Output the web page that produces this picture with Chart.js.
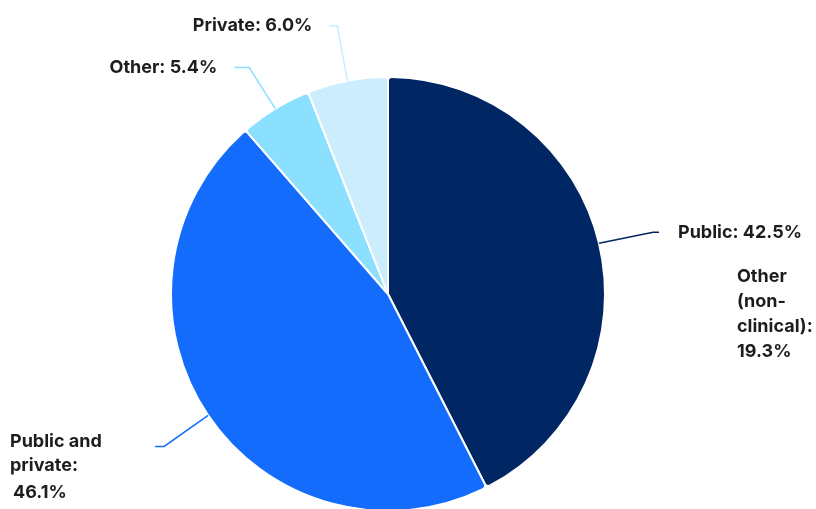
<!DOCTYPE html>
<html>
<head>
<meta charset="utf-8">
<script src="https://cdn.jsdelivr.net/npm/chart.js@4"></script>
<style>
  html, body { margin: 0; padding: 0; background: #fff; }
  #wrap { width: 816px; height: 509px; position: relative; }
</style>
</head>
<body>
<div id="wrap"><canvas id="pie_box"></canvas></div>
<script>
// chart values
var categories = ["Public", "Public and private", "Other", "Private"];
var shares = [42.5, 46.1, 5.4, 6.0];
var sliceColours = ["#002664", "#146cfd", "#8ce0ff", "#cbedfd"];
// label text per slice, already split into lines
var sliceLabels = [
    ["Public: 42.5%"],
    ["Public and", "private:", "46.1%"],
    ["Other: 5.4%"],
    ["Private: 6.0%"]
];
// loose note with no slice of its own
var noteLines = ["Other", "(non-", "clinical):", "19.3%"];

// leader line layout: elbow offset from slice edge, then horizontal run
var leaderLayout = [
    { dx: 54, dy: -11, run: 6, gap: 19, align: "left" },
    { dx: -44, dy: 31, run: -9, align: "left", x: 10, lineY: [442, 466, 493] },
    { dx: -26, dy: -41, run: -15, gap: 17, align: "right" },
    { dx: -10, dy: -55, run: -8, gap: 17, align: "right" }
];

var labelFont = "bold 18px Inter, Roboto, sans-serif";
var textColour = "#1d1d1d";

var pieLabels = {
    id: "pieLabels",
    afterDatasetsDraw: function (chart) {
        var ctx = chart.ctx;
        var arcs = chart.getDatasetMeta(0).data;
        ctx.save();
        ctx.font = labelFont;
        ctx.textBaseline = "middle";
        arcs.forEach(function (arc, i) {
            var lay = leaderLayout[i];
            var mid = (arc.startAngle + arc.endAngle) / 2;
            var sx = arc.x + Math.cos(mid) * arc.outerRadius;
            var sy = arc.y + Math.sin(mid) * arc.outerRadius;
            var ex = sx + lay.dx, ey = sy + lay.dy;
            var fx = ex + lay.run;
            ctx.strokeStyle = sliceColours[i];
            ctx.lineWidth = 1.5;
            ctx.beginPath();
            ctx.moveTo(sx, sy);
            ctx.lineTo(ex, ey);
            ctx.lineTo(fx, ey);
            ctx.stroke();

            ctx.fillStyle = textColour;
            var lines = sliceLabels[i];
            if (lay.lineY) {
                ctx.textAlign = "left";
                lines.forEach(function (t, k) {
                    ctx.fillText(t, lay.x + (k === 2 ? 3 : 0), lay.lineY[k]);
                });
            } else {
                ctx.textAlign = lay.align;
                var tx = lay.align === "left" ? fx + lay.gap : fx - lay.gap;
                ctx.fillText(lines[0], tx, ey);
            }
        });
        // note under the Public label
        ctx.textAlign = "left";
        noteLines.forEach(function (t, k) {
            ctx.fillText(t, 737, 277 + k * 25);
        });
        ctx.restore();
    }
};

var ctx = document.getElementById("pie_box").getContext("2d");
var chart = new Chart(ctx, {
    type: "pie",
    data: {
        labels: categories,
        datasets: [{
            data: shares,
            backgroundColor: sliceColours,
            borderColor: "#ffffff",
            borderWidth: 2,
            borderRadius: { outerStart: 4, outerEnd: 4, innerStart: 0, innerEnd: 0 },
            radius: 217
        }]
    },
    options: {
        responsive: true,
        maintainAspectRatio: false,
        animation: false,
        layout: { padding: { top: 79, bottom: 0, left: 0, right: 40 } },
        plugins: {
            legend: { display: false },
            tooltip: { enabled: false }
        }
    },
    plugins: [pieLabels]
});
</script>
</body>
</html>
